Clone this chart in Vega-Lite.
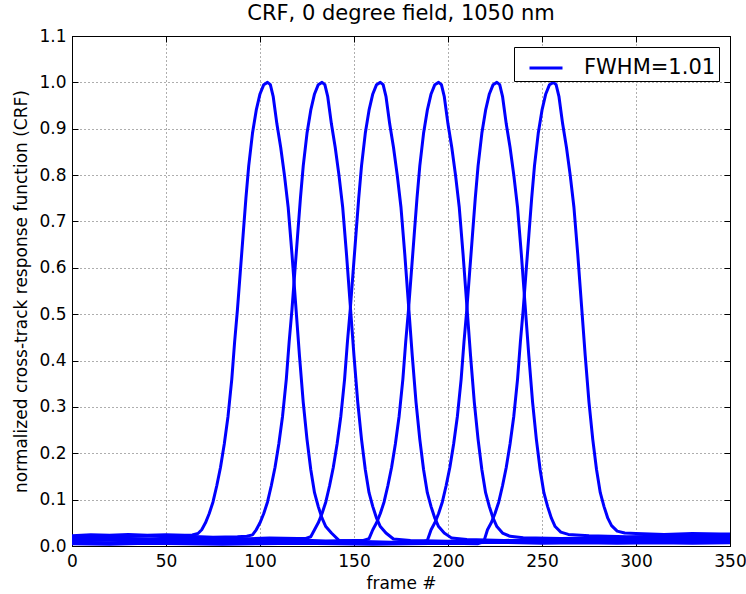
{
"$schema": "https://vega.github.io/schema/vega-lite/v6.json",
"width": 658, "height": 510,
"autosize": {"type": "none"},
"padding": {"left": 72, "top": 36, "right": 16, "bottom": 48},
"background": "white",
"title": {"text": "CRF, 0 degree field, 1050 nm", "font": "DejaVu Sans", "fontSize": 21, "fontWeight": "normal", "color": "black", "offset": 3},
"config": {"view": {"stroke": "black", "strokeWidth": 1}, "font": "DejaVu Sans"},
"data": {"values": [
{"c":1,"x":0,"y":0.022},{"c":1,"x":10,"y":0.024},{"c":1,"x":20,"y":0.023},{"c":1,"x":30,"y":0.025},{"c":1,"x":40,"y":0.023},{"c":1,"x":50,"y":0.024},{"c":1,"x":60,"y":0.023},{"c":1,"x":64,"y":0.024},
{"c":1,"x":67,"y":0.027},{"c":1,"x":69,"y":0.035},{"c":1,"x":71,"y":0.05},{"c":1,"x":73,"y":0.07},{"c":1,"x":75,"y":0.095},{"c":1,"x":77,"y":0.13},{"c":1,"x":79,"y":0.17},{"c":1,"x":81,"y":0.22},{"c":1,"x":83,"y":0.28},{"c":1,"x":85,"y":0.36},{"c":1,"x":86.5,"y":0.44},{"c":1,"x":88,"y":0.51},{"c":1,"x":89.5,"y":0.59},{"c":1,"x":91,"y":0.67},{"c":1,"x":92.5,"y":0.75},{"c":1,"x":94,"y":0.82},{"c":1,"x":96,"y":0.89},{"c":1,"x":98,"y":0.94},{"c":1,"x":100,"y":0.975},{"c":1,"x":102,"y":0.995},{"c":1,"x":104,"y":1.0},{"c":1,"x":105.5,"y":0.995},{"c":1,"x":107,"y":0.97},{"c":1,"x":109,"y":0.91},{"c":1,"x":111,"y":0.86},{"c":1,"x":113,"y":0.8},{"c":1,"x":115,"y":0.73},{"c":1,"x":117,"y":0.63},{"c":1,"x":119,"y":0.52},{"c":1,"x":121,"y":0.41},{"c":1,"x":123,"y":0.31},{"c":1,"x":125,"y":0.23},{"c":1,"x":127,"y":0.165},{"c":1,"x":129,"y":0.115},{"c":1,"x":131,"y":0.085},{"c":1,"x":133,"y":0.06},{"c":1,"x":135,"y":0.042},{"c":1,"x":138,"y":0.028},{"c":1,"x":142,"y":0.012},
{"c":1,"x":150,"y":0.01},{"c":1,"x":170,"y":0.008},{"c":1,"x":190,"y":0.009},{"c":1,"x":210,"y":0.007},{"c":1,"x":230,"y":0.008},{"c":1,"x":250,"y":0.006},{"c":1,"x":270,"y":0.007},{"c":1,"x":290,"y":0.006},{"c":1,"x":310,"y":0.007},{"c":1,"x":330,"y":0.006},{"c":1,"x":350,"y":0.007},
{"c":2,"x":0,"y":0.019},{"c":2,"x":12,"y":0.021},{"c":2,"x":25,"y":0.02},{"c":2,"x":38,"y":0.022},{"c":2,"x":50,"y":0.02},{"c":2,"x":62,"y":0.021},{"c":2,"x":75,"y":0.019},{"c":2,"x":88,"y":0.02},{"c":2,"x":93,"y":0.021},
{"c":2,"x":96,"y":0.024},{"c":2,"x":98,"y":0.035},{"c":2,"x":100,"y":0.05},{"c":2,"x":102,"y":0.07},{"c":2,"x":104,"y":0.095},{"c":2,"x":106,"y":0.13},{"c":2,"x":108,"y":0.17},{"c":2,"x":110,"y":0.22},{"c":2,"x":112,"y":0.28},{"c":2,"x":114,"y":0.36},{"c":2,"x":115.5,"y":0.44},{"c":2,"x":117,"y":0.51},{"c":2,"x":118.5,"y":0.59},{"c":2,"x":120,"y":0.67},{"c":2,"x":121.5,"y":0.75},{"c":2,"x":123,"y":0.82},{"c":2,"x":125,"y":0.89},{"c":2,"x":127,"y":0.94},{"c":2,"x":129,"y":0.975},{"c":2,"x":131,"y":0.995},{"c":2,"x":133,"y":1.0},{"c":2,"x":134.5,"y":0.995},{"c":2,"x":136,"y":0.97},{"c":2,"x":138,"y":0.91},{"c":2,"x":140,"y":0.86},{"c":2,"x":142,"y":0.8},{"c":2,"x":144,"y":0.73},{"c":2,"x":146,"y":0.63},{"c":2,"x":148,"y":0.52},{"c":2,"x":150,"y":0.41},{"c":2,"x":152,"y":0.31},{"c":2,"x":154,"y":0.23},{"c":2,"x":156,"y":0.165},{"c":2,"x":158,"y":0.115},{"c":2,"x":160,"y":0.085},{"c":2,"x":162,"y":0.06},{"c":2,"x":164,"y":0.042},{"c":2,"x":167,"y":0.028},{"c":2,"x":171,"y":0.015},
{"c":2,"x":180,"y":0.012},{"c":2,"x":200,"y":0.01},{"c":2,"x":220,"y":0.012},{"c":2,"x":240,"y":0.011},{"c":2,"x":260,"y":0.01},{"c":2,"x":280,"y":0.012},{"c":2,"x":300,"y":0.011},{"c":2,"x":320,"y":0.01},{"c":2,"x":340,"y":0.012},{"c":2,"x":350,"y":0.011},
{"c":3,"x":0,"y":0.015},{"c":3,"x":15,"y":0.017},{"c":3,"x":30,"y":0.016},{"c":3,"x":45,"y":0.015},{"c":3,"x":60,"y":0.017},{"c":3,"x":75,"y":0.016},{"c":3,"x":90,"y":0.015},{"c":3,"x":105,"y":0.017},{"c":3,"x":120,"y":0.016},{"c":3,"x":124,"y":0.016},
{"c":3,"x":127,"y":0.02},{"c":3,"x":129,"y":0.035},{"c":3,"x":131,"y":0.05},{"c":3,"x":133,"y":0.07},{"c":3,"x":135,"y":0.095},{"c":3,"x":137,"y":0.13},{"c":3,"x":139,"y":0.17},{"c":3,"x":141,"y":0.22},{"c":3,"x":143,"y":0.28},{"c":3,"x":145,"y":0.36},{"c":3,"x":146.5,"y":0.44},{"c":3,"x":148,"y":0.51},{"c":3,"x":149.5,"y":0.59},{"c":3,"x":151,"y":0.67},{"c":3,"x":152.5,"y":0.75},{"c":3,"x":154,"y":0.82},{"c":3,"x":156,"y":0.89},{"c":3,"x":158,"y":0.94},{"c":3,"x":160,"y":0.975},{"c":3,"x":162,"y":0.995},{"c":3,"x":164,"y":1.0},{"c":3,"x":165.5,"y":0.995},{"c":3,"x":167,"y":0.97},{"c":3,"x":169,"y":0.91},{"c":3,"x":171,"y":0.86},{"c":3,"x":173,"y":0.8},{"c":3,"x":175,"y":0.73},{"c":3,"x":177,"y":0.63},{"c":3,"x":179,"y":0.52},{"c":3,"x":181,"y":0.41},{"c":3,"x":183,"y":0.31},{"c":3,"x":185,"y":0.23},{"c":3,"x":187,"y":0.165},{"c":3,"x":189,"y":0.115},{"c":3,"x":191,"y":0.085},{"c":3,"x":193,"y":0.06},{"c":3,"x":195,"y":0.042},{"c":3,"x":198,"y":0.028},{"c":3,"x":202,"y":0.017},
{"c":3,"x":210,"y":0.014},{"c":3,"x":230,"y":0.012},{"c":3,"x":250,"y":0.013},{"c":3,"x":270,"y":0.014},{"c":3,"x":290,"y":0.012},{"c":3,"x":310,"y":0.013},{"c":3,"x":330,"y":0.014},{"c":3,"x":350,"y":0.013},
{"c":4,"x":0,"y":0.011},{"c":4,"x":15,"y":0.013},{"c":4,"x":30,"y":0.012},{"c":4,"x":45,"y":0.011},{"c":4,"x":60,"y":0.013},{"c":4,"x":75,"y":0.012},{"c":4,"x":90,"y":0.011},{"c":4,"x":105,"y":0.012},{"c":4,"x":120,"y":0.013},{"c":4,"x":135,"y":0.011},{"c":4,"x":150,"y":0.012},{"c":4,"x":155,"y":0.012},
{"c":4,"x":158,"y":0.016},{"c":4,"x":160,"y":0.035},{"c":4,"x":162,"y":0.05},{"c":4,"x":164,"y":0.07},{"c":4,"x":166,"y":0.095},{"c":4,"x":168,"y":0.13},{"c":4,"x":170,"y":0.17},{"c":4,"x":172,"y":0.22},{"c":4,"x":174,"y":0.28},{"c":4,"x":176,"y":0.36},{"c":4,"x":177.5,"y":0.44},{"c":4,"x":179,"y":0.51},{"c":4,"x":180.5,"y":0.59},{"c":4,"x":182,"y":0.67},{"c":4,"x":183.5,"y":0.75},{"c":4,"x":185,"y":0.82},{"c":4,"x":187,"y":0.89},{"c":4,"x":189,"y":0.94},{"c":4,"x":191,"y":0.975},{"c":4,"x":193,"y":0.995},{"c":4,"x":195,"y":1.0},{"c":4,"x":196.5,"y":0.995},{"c":4,"x":198,"y":0.97},{"c":4,"x":200,"y":0.91},{"c":4,"x":202,"y":0.86},{"c":4,"x":204,"y":0.8},{"c":4,"x":206,"y":0.73},{"c":4,"x":208,"y":0.63},{"c":4,"x":210,"y":0.52},{"c":4,"x":212,"y":0.41},{"c":4,"x":214,"y":0.31},{"c":4,"x":216,"y":0.23},{"c":4,"x":218,"y":0.165},{"c":4,"x":220,"y":0.115},{"c":4,"x":222,"y":0.085},{"c":4,"x":224,"y":0.06},{"c":4,"x":226,"y":0.042},{"c":4,"x":229,"y":0.028},{"c":4,"x":233,"y":0.021},
{"c":4,"x":240,"y":0.018},{"c":4,"x":260,"y":0.016},{"c":4,"x":280,"y":0.017},{"c":4,"x":300,"y":0.018},{"c":4,"x":320,"y":0.016},{"c":4,"x":340,"y":0.017},{"c":4,"x":350,"y":0.017},
{"c":5,"x":0,"y":0.008},{"c":5,"x":20,"y":0.007},{"c":5,"x":40,"y":0.009},{"c":5,"x":60,"y":0.008},{"c":5,"x":80,"y":0.007},{"c":5,"x":100,"y":0.008},{"c":5,"x":120,"y":0.009},{"c":5,"x":140,"y":0.008},{"c":5,"x":160,"y":0.007},{"c":5,"x":180,"y":0.008},{"c":5,"x":186,"y":0.008},
{"c":5,"x":189,"y":0.012},{"c":5,"x":191,"y":0.035},{"c":5,"x":193,"y":0.05},{"c":5,"x":195,"y":0.07},{"c":5,"x":197,"y":0.095},{"c":5,"x":199,"y":0.13},{"c":5,"x":201,"y":0.17},{"c":5,"x":203,"y":0.22},{"c":5,"x":205,"y":0.28},{"c":5,"x":207,"y":0.36},{"c":5,"x":208.5,"y":0.44},{"c":5,"x":210,"y":0.51},{"c":5,"x":211.5,"y":0.59},{"c":5,"x":213,"y":0.67},{"c":5,"x":214.5,"y":0.75},{"c":5,"x":216,"y":0.82},{"c":5,"x":218,"y":0.89},{"c":5,"x":220,"y":0.94},{"c":5,"x":222,"y":0.975},{"c":5,"x":224,"y":0.995},{"c":5,"x":226,"y":1.0},{"c":5,"x":227.5,"y":0.995},{"c":5,"x":229,"y":0.97},{"c":5,"x":231,"y":0.91},{"c":5,"x":233,"y":0.86},{"c":5,"x":235,"y":0.8},{"c":5,"x":237,"y":0.73},{"c":5,"x":239,"y":0.63},{"c":5,"x":241,"y":0.52},{"c":5,"x":243,"y":0.41},{"c":5,"x":245,"y":0.31},{"c":5,"x":247,"y":0.23},{"c":5,"x":249,"y":0.165},{"c":5,"x":251,"y":0.115},{"c":5,"x":253,"y":0.085},{"c":5,"x":255,"y":0.06},{"c":5,"x":257,"y":0.042},{"c":5,"x":260,"y":0.03},{"c":5,"x":264,"y":0.025},
{"c":5,"x":275,"y":0.022},{"c":5,"x":295,"y":0.02},{"c":5,"x":315,"y":0.021},{"c":5,"x":335,"y":0.022},{"c":5,"x":350,"y":0.021},
{"c":6,"x":0,"y":0.005},{"c":6,"x":20,"y":0.004},{"c":6,"x":40,"y":0.006},{"c":6,"x":60,"y":0.005},{"c":6,"x":80,"y":0.004},{"c":6,"x":100,"y":0.005},{"c":6,"x":120,"y":0.006},{"c":6,"x":140,"y":0.005},{"c":6,"x":160,"y":0.004},{"c":6,"x":180,"y":0.005},{"c":6,"x":200,"y":0.006},{"c":6,"x":216,"y":0.005},
{"c":6,"x":219,"y":0.009},{"c":6,"x":221,"y":0.035},{"c":6,"x":223,"y":0.05},{"c":6,"x":225,"y":0.07},{"c":6,"x":227,"y":0.095},{"c":6,"x":229,"y":0.13},{"c":6,"x":231,"y":0.17},{"c":6,"x":233,"y":0.22},{"c":6,"x":235,"y":0.28},{"c":6,"x":237,"y":0.36},{"c":6,"x":238.5,"y":0.44},{"c":6,"x":240,"y":0.51},{"c":6,"x":241.5,"y":0.59},{"c":6,"x":243,"y":0.67},{"c":6,"x":244.5,"y":0.75},{"c":6,"x":246,"y":0.82},{"c":6,"x":248,"y":0.89},{"c":6,"x":250,"y":0.94},{"c":6,"x":252,"y":0.975},{"c":6,"x":254,"y":0.995},{"c":6,"x":256,"y":1.0},{"c":6,"x":257.5,"y":0.995},{"c":6,"x":259,"y":0.97},{"c":6,"x":261,"y":0.91},{"c":6,"x":263,"y":0.86},{"c":6,"x":265,"y":0.8},{"c":6,"x":267,"y":0.73},{"c":6,"x":269,"y":0.63},{"c":6,"x":271,"y":0.52},{"c":6,"x":273,"y":0.41},{"c":6,"x":275,"y":0.31},{"c":6,"x":277,"y":0.23},{"c":6,"x":279,"y":0.165},{"c":6,"x":281,"y":0.115},{"c":6,"x":283,"y":0.085},{"c":6,"x":285,"y":0.06},{"c":6,"x":287,"y":0.044},{"c":6,"x":290,"y":0.032},{"c":6,"x":294,"y":0.028},
{"c":6,"x":300,"y":0.027},{"c":6,"x":315,"y":0.025},{"c":6,"x":330,"y":0.027},{"c":6,"x":345,"y":0.026},{"c":6,"x":350,"y":0.026}
]},
"layer": [
{
"mark": {"type": "line", "strokeWidth": 3, "strokeJoin": "round", "clip": true},
"encoding": {
"x": {"field": "x", "type": "quantitative", "scale": {"domain": [0, 350], "nice": false, "zero": false},
"axis": {"orient": "bottom", "values": [0,50,100,150,200,250,300,350], "title": "frame #", "titleFont": "DejaVu Sans", "titleFontSize": 17, "titleFontWeight": "normal", "titleColor": "black", "titlePadding": 6,
"labelFont": "DejaVu Sans", "labelFontSize": 17, "labelColor": "black", "labelPadding": 13, "labelFlush": false,
"tickSize": -6, "tickColor": "black", "domainColor": "black",
"grid": true, "gridColor": "black", "gridDash": [1, 3], "gridWidth": 0.8, "gridOpacity": 0.8}},
"y": {"field": "y", "type": "quantitative", "scale": {"domain": [0, 1.1], "nice": false, "zero": false},
"axis": {"orient": "left", "values": [0,0.1,0.2,0.3,0.4,0.5,0.6,0.7,0.8,0.9,1.0,1.1], "format": ".1f", "title": "normalized cross-track response function (CRF)", "titleFont": "DejaVu Sans", "titleFontSize": 17, "titleFontWeight": "normal", "titleColor": "black", "titlePadding": 8,
"labelFont": "DejaVu Sans", "labelFontSize": 17, "labelColor": "black", "labelPadding": 12, "labelFlush": false,
"tickSize": -6, "tickColor": "black", "domainColor": "black",
"grid": true, "gridColor": "black", "gridDash": [1, 3], "gridWidth": 0.8, "gridOpacity": 0.8}},
"detail": {"field": "c"},
"color": {"datum": "FWHM=1.01", "scale": {"range": ["#0000ff"]},
"legend": {"orient": "none", "legendX": 442, "legendY": 11, "title": null, "strokeColor": "black", "fillColor": "white", "padding": 3, "cornerRadius": 0,
"symbolType": "stroke", "symbolSize": 1089, "symbolStrokeWidth": 3, "symbolStrokeColor": "#0000ff", "symbolOffset": 11,
"labelFont": "DejaVu Sans", "labelFontSize": 21, "labelColor": "black", "labelOffset": 20}}
}
},
{
"mark": {"type": "point", "opacity": 0},
"encoding": {
"x": {"field": "x", "type": "quantitative", "scale": {"domain": [0, 350], "nice": false, "zero": false},
"axis": {"orient": "top", "values": [0,50,100,150,200,250,300,350], "labels": false, "title": null, "tickSize": -6, "tickColor": "black", "domainColor": "black", "grid": false}},
"y": {"field": "y", "type": "quantitative", "scale": {"domain": [0, 1.1], "nice": false, "zero": false},
"axis": {"orient": "right", "values": [0,0.1,0.2,0.3,0.4,0.5,0.6,0.7,0.8,0.9,1.0,1.1], "labels": false, "title": null, "tickSize": -6, "tickColor": "black", "domainColor": "black", "grid": false}}
}
}
],
"resolve": {"axis": {"x": "independent", "y": "independent"}}
}
